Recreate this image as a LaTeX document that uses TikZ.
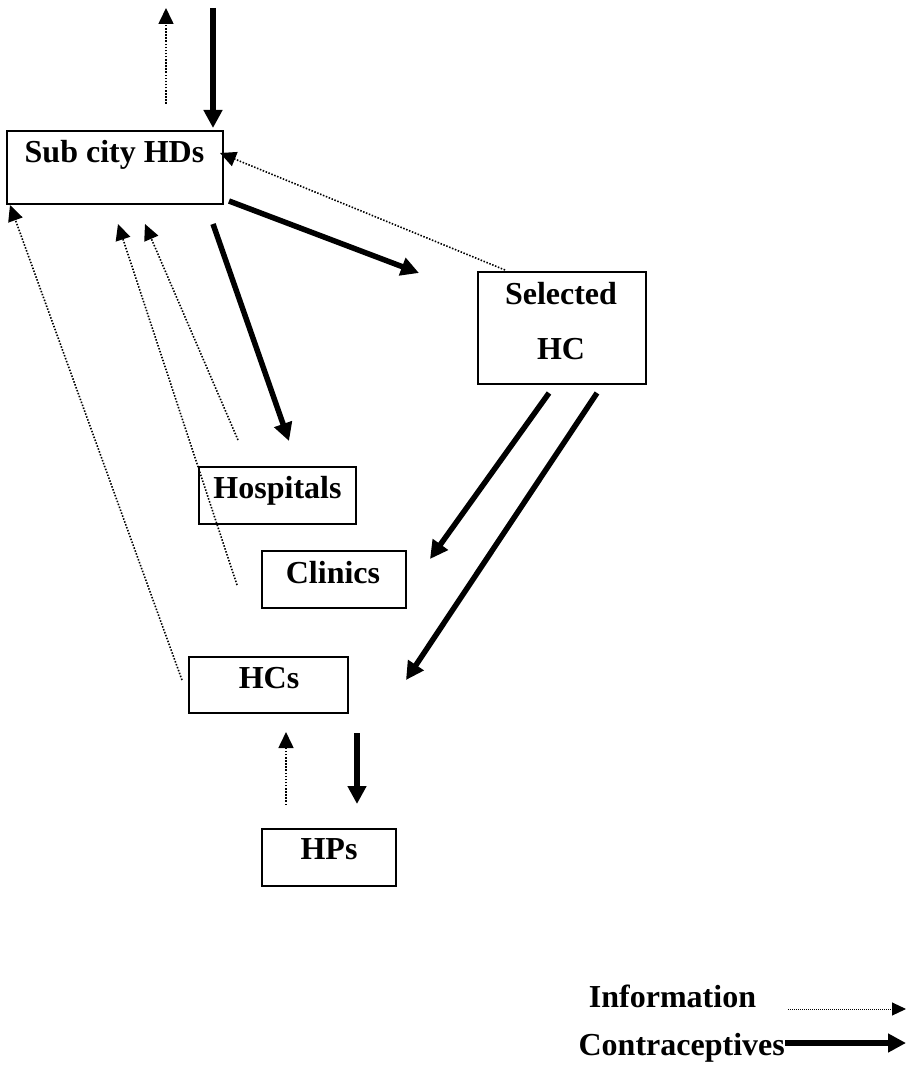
\documentclass[tikz,border=0pt]{standalone}
\usepackage{fontspec}
\setmainfont{Liberation Serif}
\usetikzlibrary{arrows.meta}
\begin{document}
\begin{tikzpicture}[x=1pt,y=-1pt,
  box/.style={draw, line width=2pt, inner sep=0pt, rectangle},
  lbl/.style={anchor=base, inner sep=0pt, font=\fontsize{32}{38}\selectfont\bfseries},
  supply/.style={line width=5.5pt, -{Triangle[length=18pt,width=18pt]}},
  info/.style={line width=1.6pt, dash pattern=on 1.5pt off 1.6pt, -{Triangle[length=16pt,width=15pt]}}]
\useasboundingbox (0,0) rectangle (906,1086);
% boxes
\node[box, minimum width=216pt, minimum height=73pt] (sub) at (115,167.5) {};
\node[lbl] (subt) at (114.5,163) {Sub city HDs};
\node[box, minimum width=168pt, minimum height=112pt] (sel) at (562,328) {};
\node[lbl] (selt1) at (561,304) {Selected};
\node[lbl] (selt2) at (561,359) {HC};
\node[box, minimum width=157pt, minimum height=57pt] (hos) at (277.5,495.5) {};
\node[lbl] (host) at (277.5,498) {Hospitals};
\node[box, minimum width=144pt, minimum height=57pt] (cli) at (334,579.5) {};
\node[lbl] (clit) at (333,583) {Clinics};
\node[box, minimum width=159pt, minimum height=56pt] (hcs) at (268.5,685) {};
\node[lbl] (hcst) at (269,688) {HCs};
\node[box, minimum width=134pt, minimum height=57pt] (hps) at (329,857.5) {};
\node[lbl] (hpst) at (329,859) {HPs};
% free ends
\coordinate (a1) at (166,104); \coordinate (a1e) at (166,8);
\coordinate (b1) at (213,8); \coordinate (b1e) at (213,128);
\coordinate (c1) at (505,270); \coordinate (c1e) at (220,153);
\coordinate (d1) at (229,201); \coordinate (d1e) at (419,273);
\coordinate (e1) at (213,224); \coordinate (e1e) at (289,441);
\coordinate (f1) at (238,440); \coordinate (f1e) at (145,224);
\coordinate (g1) at (237,585); \coordinate (g1e) at (118,224);
\coordinate (h1) at (182,680); \coordinate (h1e) at (10,205);
\coordinate (i1) at (549,393); \coordinate (i1e) at (430,559);
\coordinate (j1) at (597,393); \coordinate (j1e) at (406,680);
\coordinate (k1) at (286,805); \coordinate (k1e) at (286,732);
\coordinate (l1) at (357,733); \coordinate (l1e) at (357,804);
% arrows
\draw[info] (a1) -- (a1e);
\draw[supply] (b1) -- (b1e);
\draw[info] (c1) -- (c1e);
\draw[supply] (d1) -- (d1e);
\draw[supply] (e1) -- (e1e);
\draw[info] (f1) -- (f1e);
\draw[info] (g1) -- (g1e);
\draw[info] (h1) -- (h1e);
\draw[supply] (i1) -- (i1e);
\draw[supply] (j1) -- (j1e);
\draw[info] (k1) -- (k1e);
\draw[supply] (l1) -- (l1e);
% legend
\node[lbl] (legi) at (672.5,1007) {Information};
\node[lbl, anchor=base east] (legc) at (785,1055) {Contraceptives};
\coordinate (m1) at (788,1009); \coordinate (m1e) at (906,1009);
\coordinate (n1e) at (906,1043);
\draw[line width=1pt, dash pattern=on 1pt off 1pt, -{Triangle[length=14pt,width=13pt]}] (m1) -- (m1e);
\draw[supply] (legc.east |- n1e) -- (n1e);
\end{tikzpicture}
\end{document}
